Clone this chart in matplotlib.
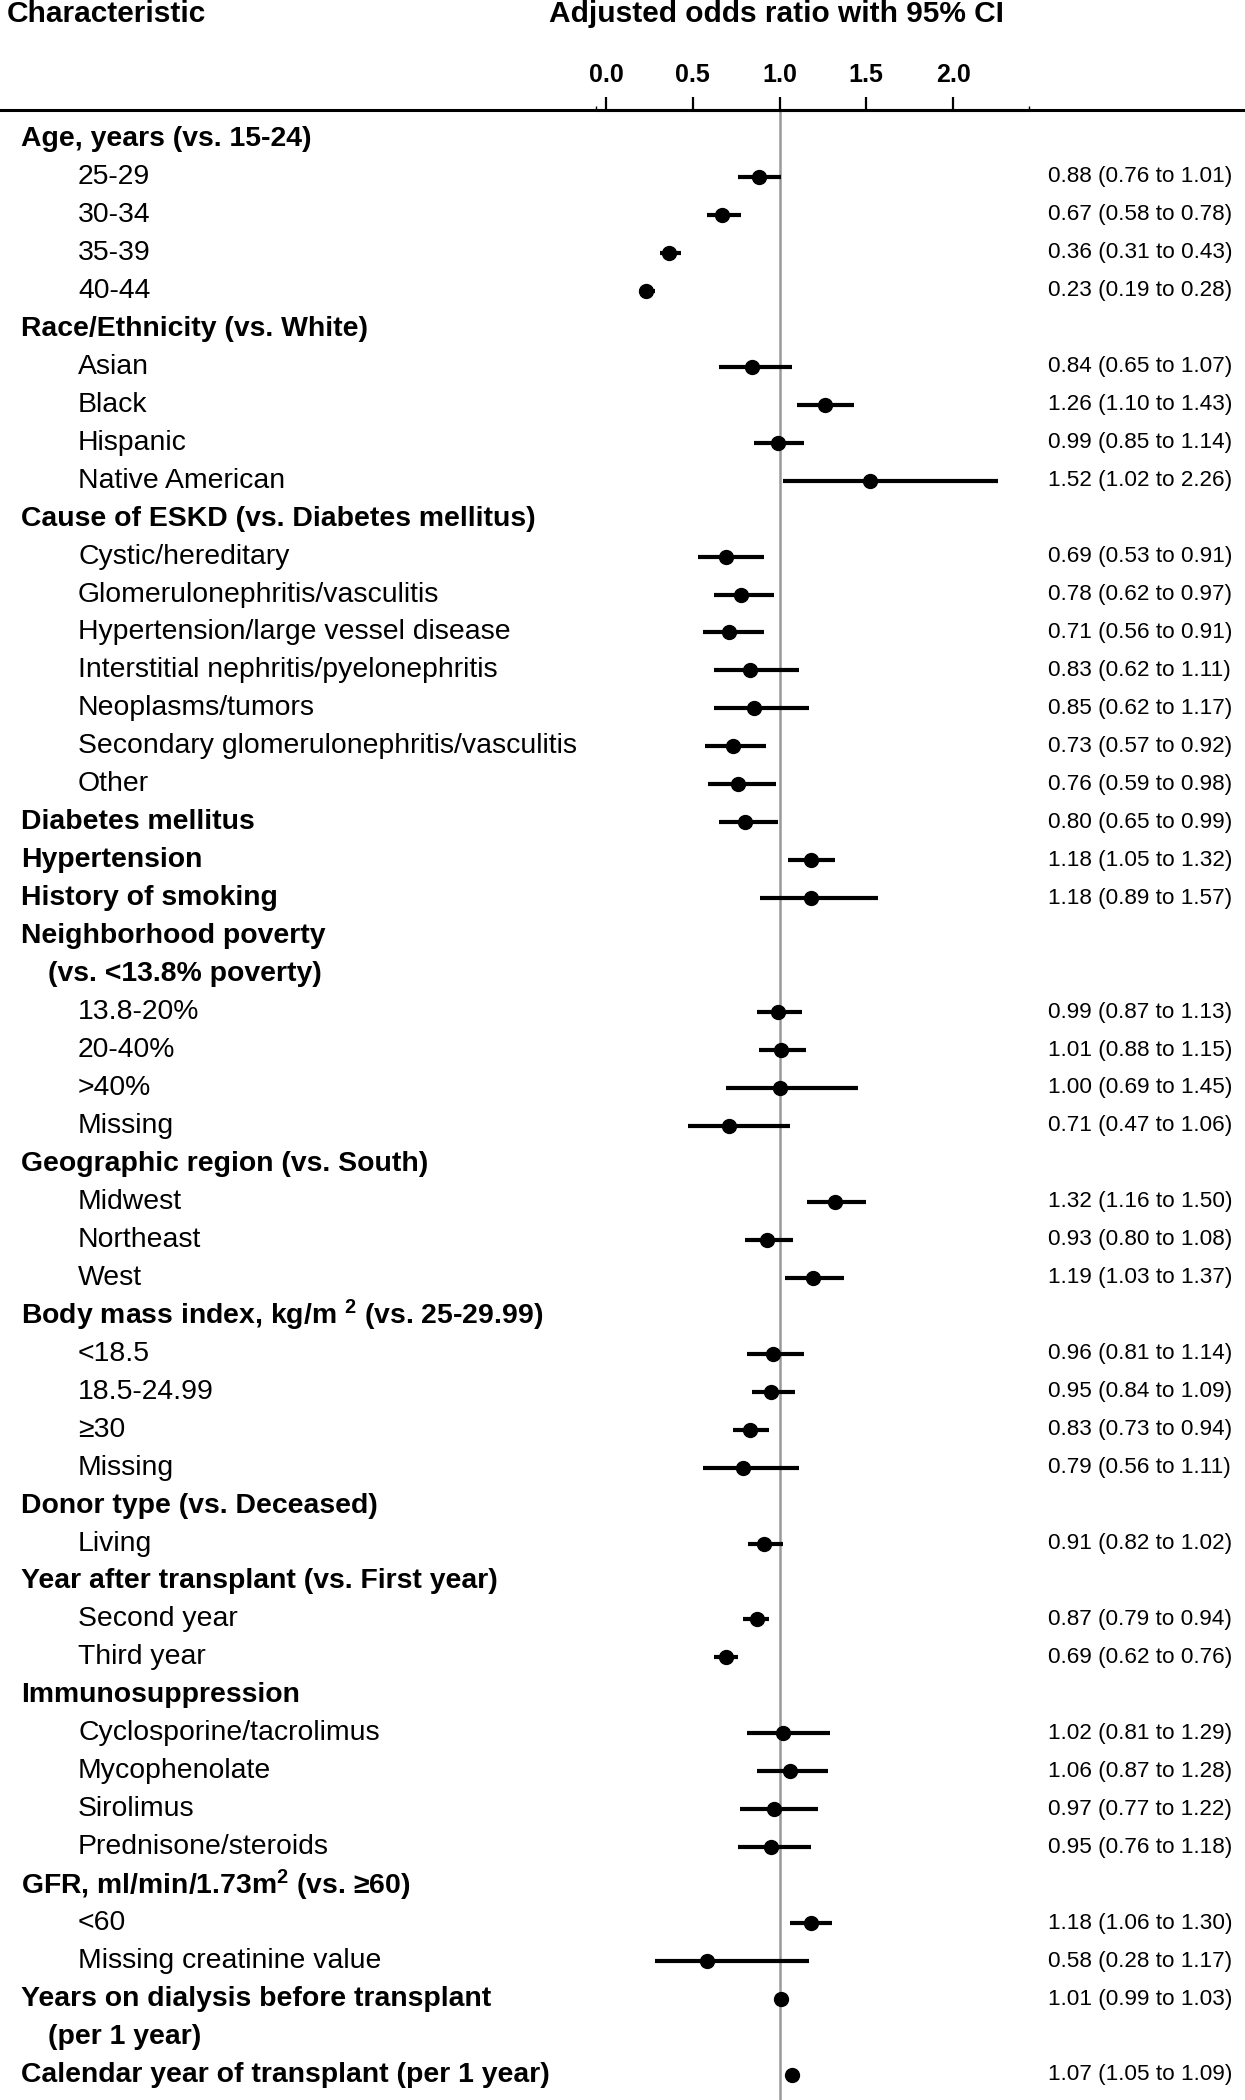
import matplotlib
matplotlib.use("Agg")
import matplotlib.pyplot as plt
import matplotlib.transforms as mtransforms
from matplotlib.lines import Line2D
import numpy as np

plt.rcParams['font.family'] = ['Liberation Sans', 'DejaVu Sans']
plt.rcParams['mathtext.default'] = 'regular'

# ---- data ----
labels = [
    "Age, years (vs. 15-24)", "25-29", "30-34", "35-39", "40-44",
    "Race/Ethnicity (vs. White)", "Asian", "Black", "Hispanic", "Native American",
    "Cause of ESKD (vs. Diabetes mellitus)", "Cystic/hereditary",
    "Glomerulonephritis/vasculitis", "Hypertension/large vessel disease",
    "Interstitial nephritis/pyelonephritis", "Neoplasms/tumors",
    "Secondary glomerulonephritis/vasculitis", "Other",
    "Diabetes mellitus", "Hypertension", "History of smoking",
    "Neighborhood poverty", "(vs. <13.8% poverty)", "13.8-20%", "20-40%", ">40%", "Missing",
    "Geographic region (vs. South)", "Midwest", "Northeast", "West",
    "Body mass index, kg/m $^{2}$ (vs. 25-29.99)", "<18.5", "18.5-24.99", "\u226530", "Missing",
    "Donor type (vs. Deceased)", "Living",
    "Year after transplant (vs. First year)", "Second year", "Third year",
    "Immunosuppression", "Cyclosporine/tacrolimus", "Mycophenolate", "Sirolimus",
    "Prednisone/steroids",
    "GFR, ml/min/1.73m$^{2}$ (vs. \u226560)", "<60", "Missing creatinine value",
    "Years on dialysis before transplant", "(per 1 year)",
    "Calendar year of transplant (per 1 year)",
]
# label kind: 'h' bold header, 'hi' bold indented continuation, 's' sub-item
kinds = (["h"] + ["s"] * 4 + ["h"] + ["s"] * 4 + ["h"] + ["s"] * 7 +
         ["h", "h", "h", "h", "hi"] + ["s"] * 4 + ["h"] + ["s"] * 3 +
         ["h"] + ["s"] * 4 + ["h", "s"] + ["h", "s", "s"] + ["h"] + ["s"] * 4 +
         ["h", "s", "s"] + ["h", "hi", "h"])

nan = np.nan
odds = [nan, 0.88, 0.67, 0.36, 0.23,
        nan, 0.84, 1.26, 0.99, 1.52,
        nan, 0.69, 0.78, 0.71, 0.83, 0.85, 0.73, 0.76,
        0.80, 1.18, 1.18,
        nan, nan, 0.99, 1.01, 1.00, 0.71,
        nan, 1.32, 0.93, 1.19,
        nan, 0.96, 0.95, 0.83, 0.79,
        nan, 0.91,
        nan, 0.87, 0.69,
        nan, 1.02, 1.06, 0.97, 0.95,
        nan, 1.18, 0.58,
        1.01, nan, 1.07]
lower = [nan, 0.76, 0.58, 0.31, 0.19,
         nan, 0.65, 1.10, 0.85, 1.02,
         nan, 0.53, 0.62, 0.56, 0.62, 0.62, 0.57, 0.59,
         0.65, 1.05, 0.89,
         nan, nan, 0.87, 0.88, 0.69, 0.47,
         nan, 1.16, 0.80, 1.03,
         nan, 0.81, 0.84, 0.73, 0.56,
         nan, 0.82,
         nan, 0.79, 0.62,
         nan, 0.81, 0.87, 0.77, 0.76,
         nan, 1.06, 0.28,
         0.99, nan, 1.05]
upper = [nan, 1.01, 0.78, 0.43, 0.28,
         nan, 1.07, 1.43, 1.14, 2.26,
         nan, 0.91, 0.97, 0.91, 1.11, 1.17, 0.92, 0.98,
         0.99, 1.32, 1.57,
         nan, nan, 1.13, 1.15, 1.45, 1.06,
         nan, 1.50, 1.08, 1.37,
         nan, 1.14, 1.09, 0.94, 1.11,
         nan, 1.02,
         nan, 0.94, 0.76,
         nan, 1.29, 1.28, 1.22, 1.18,
         nan, 1.30, 1.17,
         1.03, nan, 1.09]
xticks = [0.0, 0.5, 1.0, 1.5, 2.0]
xticklabels = ["0.0", "0.5", "1.0", "1.5", "2.0"]

# ---- figure ----
W, H = 1245, 2100
fig = plt.figure(figsize=(W / 100, H / 100), dpi=100)

ax_left, ax_right = 596, 1029
ax_top, ax_bottom = 110, 2100
ax = fig.add_axes([ax_left / W, 1 - ax_bottom / H, (ax_right - ax_left) / W,
                   (ax_bottom - ax_top) / H])
ax.set_xlim(-0.058, 2.438)
row0, step = 139.0, 37.96
ax.set_ylim((ax_bottom - row0) / step, (ax_top - row0) / step)

for s in ["left", "right", "bottom"]:
    ax.spines[s].set_visible(False)
ax.spines["top"].set_linewidth(2.2)
ax.xaxis.set_ticks_position("top")
ax.set_xticks(xticks)
ax.set_xticklabels(xticklabels, fontsize=18, fontweight="bold")
ax.tick_params(axis="x", direction="out", length=9.5, width=1.6, pad=7)
ax.set_xticks([-0.058, 2.438], minor=True)
ax.tick_params(axis="x", which="minor", direction="out", length=3, width=1.0)
ax.set_yticks([])
ax.patch.set_alpha(0)

# reference line at OR = 1
ax.axvline(1.0, color="#999999", lw=1.8, zorder=1)

ys = np.arange(len(labels))
o = np.array(odds); lo = np.array(lower); hi = np.array(upper)
m = ~np.isnan(o)
ax.hlines(ys[m], lo[m], hi[m], color="black", lw=3.0, zorder=2)
ax.plot(o[m], ys[m], "o", color="black", ms=10, zorder=3)

# full-width axis line
fig.add_artist(Line2D([0, 1], [1 - 110 / H, 1 - 110 / H], transform=fig.transFigure,
                      color="black", lw=2.2))

# labels
tr = mtransforms.blended_transform_factory(fig.transFigure, ax.transData)
for i, (lab, k) in enumerate(zip(labels, kinds)):
    if k == "h":
        fig.text(21 / W, i, lab, transform=tr, fontsize=20.4, fontweight="bold",
                 va="center", ha="left")
    elif k == "hi":
        fig.text(48 / W, i, lab, transform=tr, fontsize=20.4, fontweight="bold",
                 va="center", ha="left")
    else:
        fig.text(78 / W, i, lab, transform=tr, fontsize=20.4,
                 va="center", ha="left")
    if m[i]:
        fig.text(1048 / W, i, f"{o[i]:.2f} ({lo[i]:.2f} to {hi[i]:.2f})",
                 transform=tr, fontsize=16.2, va="center", ha="left")

fig.text(7 / W, 1 - 14 / H, "Characteristic", fontsize=21.5, fontweight="bold",
         va="center", ha="left")
fig.text(776 / W, 1 - 14 / H, "Adjusted odds ratio with 95% CI", fontsize=21.5,
         fontweight="bold", va="center", ha="center")

fig.savefig("out.png", dpi=100)
